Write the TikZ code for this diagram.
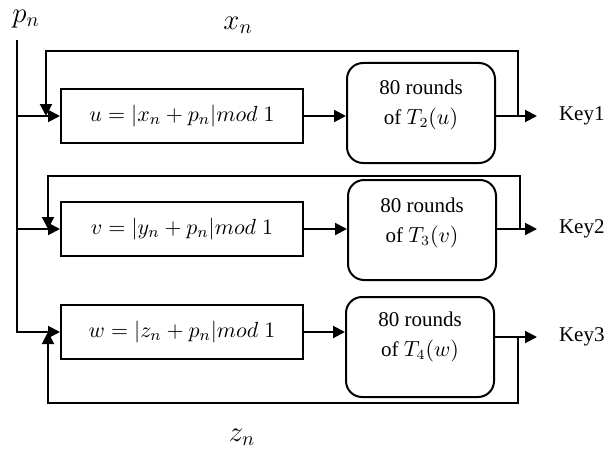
\documentclass[tikz,border=0pt]{standalone}
\usepackage{fontspec}
\setmainfont{Liberation Serif}
\usetikzlibrary{arrows.meta}
\begin{document}
\begin{tikzpicture}[x=0.5pt,y=-0.5pt,
  line width=1pt,
  fbox/.style={draw, rectangle, minimum width=121pt, minimum height=27pt, inner sep=0pt, font=\fontsize{11}{13}\selectfont},
  rbox/.style={draw, rounded corners=8pt, minimum width=74pt, minimum height=50pt, inner sep=0pt},
  rtext/.style={align=center, font=\fontsize{10.5}{15}\selectfont, inner sep=0pt},
  keytext/.style={anchor=west, font=\fontsize{10.5}{12}\selectfont, inner sep=0pt},
  lbl/.style={font=\fontsize{14}{16}\selectfont, inner sep=0pt},
  arr/.style={-{Triangle[length=6pt,width=6pt]}},
]
\useasboundingbox (0,0) rectangle (613,449);

% labels
\node[lbl] (pn) at (26,19) {$p_n$};
\node[lbl] (xn) at (238,25) {$x_n$};
\node[lbl] (zn) at (242,437) {$z_n$};

% formula boxes
\node[fbox] (b1) at (182,116) {$u=|x_n+p_n|mod\;1$};
\node[fbox] (b2) at (182,229) {$v=|y_n+p_n|mod\;1$};
\node[fbox] (b3) at (182,332) {$w=|z_n+p_n|mod\;1$};

% rounded boxes
\node[rbox] (r1) at (421,113) {};
\node[rbox] (r2) at (422,230) {};
\node[rbox] (r3) at (420,347) {};
\node[rtext] (t1) at (421,105) {80 rounds\\of $T_2(u)$};
\node[rtext] (t2) at (422,223) {80 rounds\\of $T_3(v)$};
\node[rtext] (t3) at (420,337) {80 rounds\\of $T_4(w)$};

% keys
\node[keytext] (k1) at (558,116) {Key1};
\node[keytext] (k2) at (558,229) {Key2};
\node[keytext] (k3) at (558,337) {Key3};

% coordinates
\coordinate (ptop) at (17,40);
\coordinate (pbot) at (17,332);
\coordinate (o1) at (518,116);
\coordinate (e1) at (537,116);
\coordinate (f1) at (518,51);
\coordinate (g1) at (46,51);
\coordinate (o2) at (520,229);
\coordinate (e2) at (537,229);
\coordinate (f2) at (520,176);
\coordinate (g2) at (48,176);
\coordinate (o3) at (518,337);
\coordinate (e3) at (537,337);
\coordinate (f3) at (518,403);
\coordinate (g3) at (48,403);

% p_n input
\draw[arr] (ptop) -- (pbot) -- (b3.west);
\draw[arr] (ptop |- b1.west) -- (b1.west);
\draw[arr] (ptop |- b2.west) -- (b2.west);

% box to rounded box
\draw[arr] (b1.east) -- (b1.east -| r1.west);
\draw[arr] (b2.east) -- (b2.east -| r2.west);
\draw[arr] (b3.east) -- (b3.east -| r3.west);

% outputs
\draw[arr] (r1.east |- o1) -- (e1);
\draw[arr] (r2.east |- o2) -- (e2);
\draw[arr] (r3.east |- o3) -- (e3);

% feedback loops
\draw[arr] (o1) -- (f1) -- (g1) -- (g1 |- b1.west);
\draw[arr] (o2) -- (f2) -- (g2) -- (g2 |- b2.west);
\draw[arr] (o3) -- (f3) -- (g3) -- (g3 |- b3.west);

\end{tikzpicture}
\end{document}
